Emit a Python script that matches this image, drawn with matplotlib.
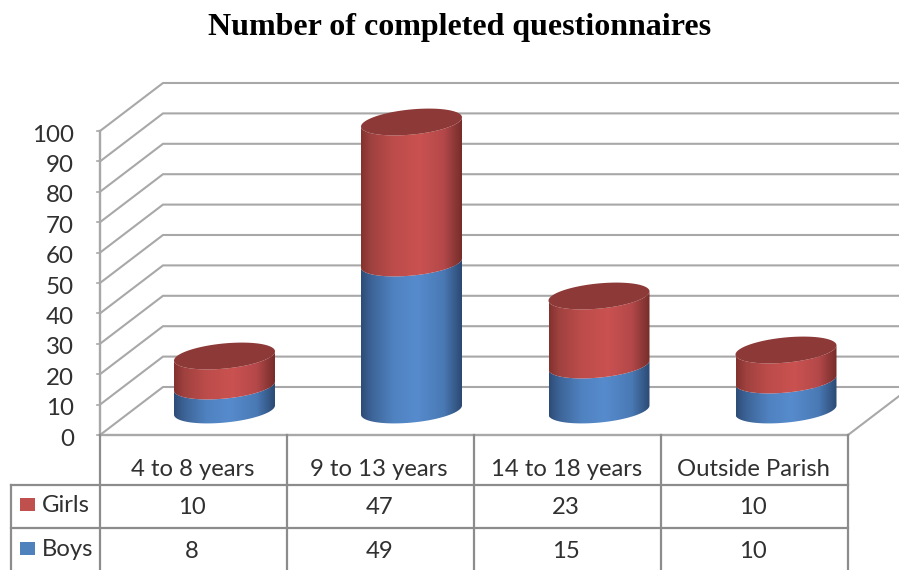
import numpy as np
import matplotlib
matplotlib.use("Agg")
import matplotlib.pyplot as plt
from matplotlib.colors import LinearSegmentedColormap
from matplotlib.patches import PathPatch, Rectangle
from matplotlib.path import Path

title = "Number of completed questionnaires"
categories = ["4 to 8 years", "9 to 13 years", "14 to 18 years", "Outside Parish"]
girls = [10, 47, 23, 10]
boys = [8, 49, 15, 10]
y_ticks = [0, 10, 20, 30, 40, 50, 60, 70, 80, 90, 100]

W, H = 899, 570
FONT = "Lato"
TXT = "#303030"
GRID = "#a8a8a8"
TAB = "#8c8c8c"

fig = plt.figure(figsize=(W / 100, H / 100), dpi=100)
ax = fig.add_axes([0, 0, 1, 1])

# plot geometry
x_left, x_right = 100, 848
y_floor, y_top = 435, 131
dx_depth, dy_depth = 63, 48
col_edges = [100, 286.5, 474, 660.5, 848]
centres = [224.5, 411.5, 599, 786]
base_y, unit = 410, 3.0
a, b, k = 50.5, 12.6, 4.6

def wall_y(v):
    return y_floor + (y_top - y_floor) * v / 100

# walls
for v in y_ticks:
    y = wall_y(v)
    ax.plot([x_left, x_left + dx_depth, W + 5], [y, y - dy_depth, y - dy_depth],
            color=GRID, lw=1.5, solid_joinstyle="miter", zorder=1)
    ax.plot([x_left - 3, x_left], [y, y], color=GRID, lw=1.2, zorder=1)
    ax.text(74, y + 4, str(v), ha="right", va="center", fontsize=17.4,
            family=FONT, color=TXT)
ax.plot([x_left, x_left], [y_top, y_floor], color=GRID, lw=1.7, zorder=1)
ax.plot([x_right, x_right + dx_depth], [y_floor, y_floor - dy_depth], color=GRID, lw=1.5, zorder=1)

blue_side = LinearSegmentedColormap.from_list("b", [(0, "#2d4d78"), (0.1, "#3d6497"), (0.32, "#4f82c0"),
    (0.55, "#568bcd"), (0.82, "#4a7ab5"), (1, "#2c4a74")])
red_side = LinearSegmentedColormap.from_list("r", [(0, "#84322f"), (0.1, "#a04240"), (0.32, "#bc4c4a"),
    (0.58, "#ca5250"), (0.82, "#b5484a"), (1, "#762d2b")])
grad = np.linspace(0, 1, 200)[None, :]

def front_curve(cx, cy, reverse=False):
    t = np.linspace(0, np.pi, 60)
    if reverse:
        t = t[::-1]
    return np.column_stack([cx + a * np.cos(t), cy + b * np.sin(t) - k * np.cos(t)])

def side(cx, y0, y1, cmap, z):
    pts = np.vstack([front_curve(cx, y0), front_curve(cx, y1, True)])
    patch = PathPatch(Path(np.vstack([pts, pts[0]])), transform=ax.transData,
                      facecolor="none", edgecolor="none")
    ax.add_patch(patch)
    im = ax.imshow(grad, cmap=cmap, extent=[cx - a, cx + a, y0 + 30, y1 - 30],
                   aspect="auto", zorder=z, interpolation="bilinear")
    im.set_clip_path(patch)

for cx, bv, gv in zip(centres, boys, girls):
    y_b = base_y - unit * bv
    y_g = base_y - unit * (bv + gv)
    side(cx, base_y, y_b, blue_side, 3)
    side(cx, y_b, y_g, red_side, 4)
    t = np.linspace(0, 2 * np.pi, 120)
    ax.fill(cx + a * np.cos(t), y_g + b * np.sin(t) - k * np.cos(t),
            color="#8c3937", lw=0, zorder=5)

# data table
rows_y = [435, 484.5, 528, 575]
x_tab = 11
ax.plot([x_left, x_right], [rows_y[0]] * 2, color=GRID, lw=1.7, zorder=6)
for x in col_edges:
    ax.plot([x, x], [rows_y[0], H + 5], color=TAB, lw=1.6, zorder=6)
ax.plot([x_tab, x_tab], [rows_y[1], H + 5], color=TAB, lw=1.6, zorder=6)
for y in rows_y[1:3]:
    ax.plot([x_tab, x_right], [y, y], color=TAB, lw=1.6, zorder=6)

col_mid = [(col_edges[i] + col_edges[i + 1]) / 2 for i in range(4)]
row_text = [("Girls", girls, "#c0504d", 505, 498), ("Boys", boys, "#4f81bd", 549, 542)]
for m, c in zip(col_mid, categories):
    ax.text(m - 1, 470, c, ha="center", va="center", fontsize=17.2, family=FONT, color=TXT)
for name, vals, col, yc, ys in row_text:
    ax.add_patch(Rectangle((20, ys), 15, 13, facecolor=col, edgecolor="none", zorder=7))
    ax.text(42, yc + 1, name, ha="left", va="center", fontsize=17.2, family=FONT, color=TXT)
    for m, v in zip(col_mid, vals):
        ax.text(m - 1, yc + 2, str(v), ha="center", va="center", fontsize=17.2, family=FONT, color=TXT)

ax.text(460, 28, title, ha="center", va="center", fontsize=23.0, fontweight="bold",
        family="Liberation Serif", color="black")

ax.set_xlim(0, W)
ax.set_ylim(H, 0)
ax.axis("off")
fig.savefig("out.png", dpi=100, facecolor="white")
